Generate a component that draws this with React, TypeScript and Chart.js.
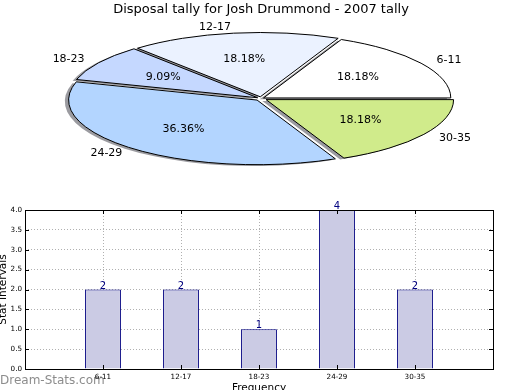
import React, { useEffect, useRef } from 'react';
import { Chart, registerables } from 'chart.js';

Chart.register(...registerables);

// ---------- data ----------
const chartTitle = 'Disposal tally for Josh Drummond - 2007 tally';
const categories = ['6-11', '12-17', '18-23', '24-29', '30-35'];
const counts = [2, 2, 1, 4, 2];
const yTickValues = [0, 0.5, 1, 1.5, 2, 2.5, 3, 3.5, 4];
const xAxisTitle = 'Frequency';
const yAxisTitle = 'Stat Intervals';
const watermarkText = 'Dream-Stats.com';

// ---------- styles ----------
const FONT = '"DejaVu Sans", sans-serif';
const sliceColors = ['#ffffff', '#ebf2ff', '#c5d8ff', '#b3d5ff', '#d0eb8b'];
const sliceExplode = [3, 5, 4, 6, 6];
const SQUASH = 0.343;
const SHADOW_DX = -3.8;
const SHADOW_DY = 1.3;

function wedgeGeom(arc: any) {
  const p = arc.getProps(['x', 'y', 'startAngle', 'endAngle', 'outerRadius', 'circumference']);
  const off = (arc.options.offset || 0) / 4;
  const mid = (p.startAngle + p.endAngle) / 2;
  const fix = 1 - Math.sin(Math.min(Math.PI, p.circumference || 0));
  return {
    cx: p.x + Math.cos(mid) * off,
    cy: p.y + Math.sin(mid) * off,
    r: p.outerRadius + off * fix,
    baseR: p.outerRadius,
    start: p.startAngle,
    end: p.endAngle,
    mid,
    off,
    x0: p.x,
    y0: p.y,
  };
}

function wedgePath(ctx: CanvasRenderingContext2D, arc: any, dx: number, dy: number) {
  const g = wedgeGeom(arc);
  const cx = g.cx + dx;
  const cy = g.cy + dy;
  ctx.moveTo(cx, cy);
  ctx.arc(cx, cy, g.r, g.start, g.end);
  ctx.closePath();
}

function squash(ctx: CanvasRenderingContext2D, cy: number) {
  ctx.translate(0, cy * (1 - SQUASH));
  ctx.scale(1, SQUASH);
}

const pieSquashPlugin = {
  id: 'pieSquash',
  beforeDatasetsDraw(chart: any) {
    const ctx: CanvasRenderingContext2D = chart.ctx;
    const arcs = chart.getDatasetMeta(0).data;
    const cy = arcs[0].y;
    ctx.save();
    squash(ctx, cy);
    ctx.fillStyle = 'rgba(55,55,65,0.5)';
    arcs.forEach((a: any) => {
      ctx.beginPath();
      wedgePath(ctx, a, SHADOW_DX, SHADOW_DY / SQUASH);
      ctx.fill();
    });
  },
  afterDatasetsDraw(chart: any) {
    const ctx: CanvasRenderingContext2D = chart.ctx;
    ctx.restore();
    const meta = chart.getDatasetMeta(0);
    const arcs = meta.data;
    const labels = chart.data.labels;
    const values = chart.data.datasets[0].data as number[];
    const total = values.reduce((s, v) => s + v, 0);
    const cy = arcs[0].y;
    // borders
    arcs.forEach((a: any) => {
      ctx.save();
      squash(ctx, cy);
      ctx.beginPath();
      wedgePath(ctx, a, 0, 0);
      ctx.restore();
      ctx.lineWidth = 1;
      ctx.strokeStyle = '#000';
      ctx.lineJoin = 'miter';
      ctx.stroke();
    });
    // labels
    ctx.save();
    ctx.fillStyle = '#000';
    ctx.font = '11px ' + FONT;
    ctx.textBaseline = 'middle';
    arcs.forEach((a: any, i: number) => {
      const g = wedgeGeom(a);
      const c = Math.cos(g.mid);
      const s = Math.sin(g.mid);
      const ox = g.x0 + c * g.off;
      const oy = g.y0 + s * g.off;
      const lx = ox + c * 1.1 * g.baseR;
      const ly = cy + (oy + s * 1.1 * g.baseR - cy) * SQUASH;
      ctx.textAlign = c > 0 ? 'left' : 'right';
      ctx.fillText(String(labels[i]), lx, ly);
      const px = ox + c * 0.6 * g.baseR;
      const py = cy + (oy + s * 0.6 * g.baseR - cy) * SQUASH;
      ctx.textAlign = 'center';
      ctx.fillText(((values[i] / total) * 100).toFixed(2) + '%', px, py);
    });
    ctx.restore();
  },
};

const framePlugin = {
  id: 'frame',
  afterDraw(chart: any) {
    const { ctx, chartArea: a, scales } = chart;
    ctx.save();
    ctx.strokeStyle = '#000';
    ctx.lineWidth = 1;
    // tick marks
    ctx.beginPath();
    scales.y.ticks.forEach((t: any) => {
      const py = Math.round(scales.y.getPixelForValue(t.value)) + 0.5;
      ctx.moveTo(a.left, py);
      ctx.lineTo(a.left + 4, py);
      ctx.moveTo(a.right, py);
      ctx.lineTo(a.right - 4, py);
    });
    scales.x.ticks.forEach((t: any, i: number) => {
      const px = Math.round(scales.x.getPixelForTick(i)) + 0.5;
      ctx.moveTo(px, a.bottom);
      ctx.lineTo(px, a.bottom - 4);
      ctx.moveTo(px, a.top);
      ctx.lineTo(px, a.top + 4);
    });
    ctx.stroke();
    ctx.strokeRect(Math.round(a.left) + 0.5, Math.round(a.top) + 0.5, Math.round(a.right - a.left), Math.round(a.bottom - a.top));
    ctx.restore();
  },
};

const valueLabelPlugin = {
  id: 'valueLabels',
  afterDatasetsDraw(chart: any) {
    const ctx: CanvasRenderingContext2D = chart.ctx;
    const meta = chart.getDatasetMeta(0);
    const data = chart.data.datasets[0].data;
    ctx.save();
    ctx.fillStyle = '#000080';
    ctx.font = '10px ' + FONT;
    ctx.textAlign = 'center';
    ctx.textBaseline = 'alphabetic';
    meta.data.forEach((el: any, i: number) => {
      const v = data[i];
      if (v === null || v === undefined) return;
      ctx.fillText(String(v), el.x, el.y - 1);
    });
    ctx.restore();
  },
};

const watermarkPlugin = {
  id: 'watermark',
  beforeDraw(chart: any) {
    const ctx: CanvasRenderingContext2D = chart.ctx;
    ctx.save();
    ctx.fillStyle = 'rgba(120,120,120,0.85)';
    ctx.font = '12px ' + FONT;
    ctx.textAlign = 'left';
    ctx.textBaseline = 'middle';
    ctx.fillText(watermarkText, 4, 186);
    ctx.restore();
  },
};

export default function App() {
  const pieRef = useRef<HTMLCanvasElement>(null);
  const barRef = useRef<HTMLCanvasElement>(null);

  useEffect(() => {
    const pieLabels = [...categories].reverse();
    const pieValues = [...counts].reverse();
    const pieColors = [...sliceColors].reverse();
    const pieOffsets = [...sliceExplode].reverse().map((e) => e * 4);

    const pie = new Chart(pieRef.current as HTMLCanvasElement, {
      type: 'pie',
      data: {
        labels: pieLabels,
        datasets: [
          {
            data: pieValues,
            backgroundColor: pieColors,
            borderWidth: 0,
            offset: pieOffsets,
            clip: false,
          } as any,
        ],
      },
      options: {
        responsive: false,
        animation: false,
        rotation: 90,
        radius: 187,
        layout: { padding: { top: 0, bottom: 10.6, left: 2, right: 0 } },
        plugins: {
          legend: { display: false },
          tooltip: { enabled: false },
          title: {
            display: true,
            text: chartTitle,
            color: '#000',
            font: { family: FONT, size: 13, weight: 'normal' },
            padding: { top: 2, bottom: 0 },
          },
        },
      } as any,
      plugins: [pieSquashPlugin],
    });

    const bar = new Chart(barRef.current as HTMLCanvasElement, {
      type: 'bar',
      data: {
        labels: ['', ...categories, ''],
        datasets: [
          {
            data: [null, ...counts, null],
            backgroundColor: '#cbcbe4',
            borderColor: '#000080',
            borderWidth: 1,
            barPercentage: 0.46,
            categoryPercentage: 1,
          } as any,
        ],
      },
      options: {
        responsive: false,
        animation: false,
        layout: { padding: { top: 15, right: 27, left: 0, bottom: 0 } },
        plugins: {
          legend: { display: false },
          tooltip: { enabled: false },
        },
        scales: {
          x: {
            offset: false,
            z: 1,
            grid: { offset: false, color: '#b0b0b0', drawTicks: false, lineWidth: 1 },
            border: { display: false, dash: [1, 2] },
            ticks: {
              autoSkip: false,
              maxRotation: 0,
              padding: 4,
              color: '#000',
              font: { family: FONT, size: 7.2 },
            },
            title: {
              display: true,
              text: xAxisTitle,
              color: '#000',
              font: { family: FONT, size: 10.5 },
              padding: { top: 0, bottom: 5.5 },
            },
            afterFit(s: any) {
              s.height = 31;
            },
          },
          y: {
            min: 0,
            max: 4,
            grid: { color: '#b0b0b0', drawTicks: false, lineWidth: 1 },
            border: { display: false, dash: [1, 2] },
            afterBuildTicks(s: any) {
              s.ticks = yTickValues.map((v) => ({ value: v }));
            },
            ticks: {
              padding: 3,
              color: '#000',
              font: { family: FONT, size: 7.2 },
              callback: (v: any) => Number(v).toFixed(1),
            },
            title: {
              display: true,
              text: yAxisTitle,
              color: '#000',
              font: { family: FONT, size: 10.5 },
              padding: { top: 1, bottom: 0 },
            },
            afterFit(s: any) {
              s.width = 29;
            },
          },
        },
      } as any,
      plugins: [watermarkPlugin, valueLabelPlugin, framePlugin],
    });

    return () => {
      pie.destroy();
      bar.destroy();
    };
  }, []);

  return (
    <div
      style={{
        position: 'absolute',
        left: 0,
        top: 0,
        width: 520,
        height: 390,
        overflow: 'hidden',
        background: '#fff',
      }}
    >
      <canvas ref={pieRef} width={520} height={190} style={{ position: 'absolute', left: 0, top: 0 }} />
      <canvas ref={barRef} width={524} height={205} style={{ position: 'absolute', left: -4, top: 195 }} />
    </div>
  );
}
